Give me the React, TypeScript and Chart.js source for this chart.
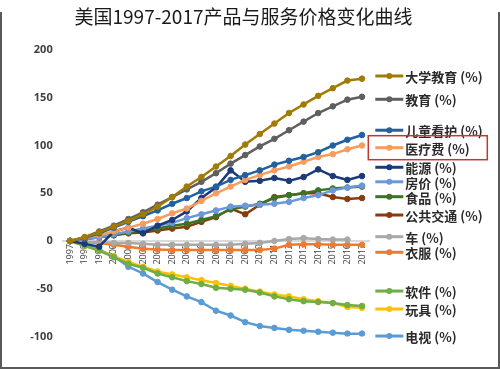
import React, { useEffect, useRef } from 'react';
import { Chart, registerables } from 'chart.js';

Chart.register(...registerables);

const TITLE = '美国1997-2017产品与服务价格变化曲线';

const years = ['1997', '1998', '1999', '2000', '2001', '2002', '2003', '2004', '2005', '2006', '2007',
  '2008', '2009', '2010', '2011', '2012', '2013', '2014', '2015', '2016', '2017'];

const yMin = -100;
const yMax = 200;
const yStep = 50;

const collegeTuition = [0, 4, 9, 15, 21, 28, 36, 46, 57, 67, 78, 89, 101, 112, 123, 134, 143, 152, 160, 168, 170];
const education = [0, 4, 10, 16, 23, 30, 38, 46, 54, 62, 71, 81, 90, 99, 107, 116, 125, 134, 141, 148, 151];
const childcare = [0, 3, 8, 14, 20, 26, 32, 39, 45, 52, 57, 64, 69, 74, 80, 84, 88, 93, 100, 106, 111];
const medical = [0, 3, 6, 10, 14, 18, 23, 29, 34, 42, 50, 57, 64, 69, 74, 78, 83, 88, 91, 96, 100];
const energy = [0, -3, -6, 10, 14, 8, 16, 22, 31, 45, 56, 74, 62, 63, 66, 63, 67, 75, 68, 64, 68];
const housing = [0, 2, 4, 7, 10, 13, 16, 19, 24, 28, 32, 36, 37, 38, 39, 41, 45, 48, 53, 56, 58];
const food = [0, 2, 4, 6, 9, 11, 13, 16, 18, 22, 26, 33, 36, 39, 45, 48, 50, 53, 55, 56, 57];
const publicTransport = [0, 2, 4, 6, 8, 9, 11, 13, 15, 20, 25, 34, 28, 38, 46, 48, 50, 50, 46, 44, 45];
const cars = [0, -1, -1, -2, -2, -3, -4, -4, -4, -4, -4, -4, -3, -2, 0, 2, 3, 2, 1.5, 1.5, null];
const clothing = [0, -1, -2, -4, -6, -8, -9, -9.5, -9.5, -9.5, -9.5, -9.5, -9.5, -9.5, -8, -4, -3.5, -3.5, -4, -4, -4];
const software = [0, -5, -10, -17, -24, -28, -34, -38, -42, -45, -49, -50, -51, -54, -58, -61, -63, -64, -65, -67, -68];
const toys = [0, -5, -10, -16, -22, -27, -32, -35, -38, -41, -44, -47, -50, -53, -56, -58, -61, -63, -65, -69, -70];
const televisions = [0, -3, -9, -16, -27, -34, -43, -51, -58, -64, -73, -78, -85, -89, -91, -93, -94, -95, -96, -97, -97];

const seriesLabels = ['大学教育 (%)', '教育 (%)', '儿童看护 (%)', '医疗费 (%)', '能源 (%)', '房价 (%)', '食品 (%)',
  '公共交通 (%)', '车 (%)', '衣服 (%)', '软件 (%)', '玩具 (%)', '电视 (%)'];
const seriesData = [collegeTuition, education, childcare, medical, energy, housing, food,
  publicTransport, cars, clothing, software, toys, televisions];
const seriesColors = ['#a07c06', '#5f5f5f', '#23609f', '#f79c5c', '#1c3a78', '#6b98dc', '#3d7226',
  '#8a3b0c', '#a8a8a8', '#ee7a2e', '#6fae45', '#ffc000', '#5b9bd5'];

// legend rows are placed beside the line ends (anchor given on the value axis)
const legendAnchors = [172.8, 148.4, 116, 97.7, 77.2, 62, 46.4, 27.2, 4.5, -11.8, -52.4, -71.2, -99.5];
const highlightedIndex = 3;

const overlayPlugin = {
  id: 'overlay',
  afterDraw(chart: any) {
    const ctx = chart.ctx;
    const yScale = chart.scales.y;
    const area = chart.chartArea;
    ctx.save();
    // title
    ctx.font = '19px "Noto Sans CJK SC", sans-serif';
    ctx.fillStyle = '#1a1a1a';
    ctx.textAlign = 'center';
    ctx.textBaseline = 'middle';
    ctx.fillText(TITLE, 243.5, 17);
    // legend
    const x0 = area.right + 6;
    chart.data.datasets.forEach((ds: any, i: number) => {
      const yy = yScale.getPixelForValue(legendAnchors[i]);
      ctx.strokeStyle = ds.borderColor;
      ctx.lineWidth = 3;
      ctx.beginPath();
      ctx.moveTo(x0, yy);
      ctx.lineTo(x0 + 28, yy);
      ctx.stroke();
      ctx.fillStyle = ds.borderColor;
      ctx.beginPath();
      ctx.arc(x0 + 14, yy, 3, 0, Math.PI * 2);
      ctx.fill();
      ctx.font = 'bold 13px "Noto Sans CJK SC", sans-serif';
      ctx.fillStyle = '#2a2a2a';
      ctx.textAlign = 'left';
      ctx.textBaseline = 'middle';
      ctx.fillText(ds.label, x0 + 30, yy + 1);
      if (i === highlightedIndex) {
        ctx.strokeStyle = '#c0392b';
        ctx.lineWidth = 1.5;
        ctx.strokeRect(x0 - 7, yy - 12, 119, 24);
      }
    });
    ctx.restore();
  },
};

export default function App() {
  const ref = useRef<HTMLCanvasElement>(null);
  useEffect(() => {
    if (!ref.current) return;
    const chart = new Chart(ref.current, {
      type: 'line',
      data: {
        labels: years,
        datasets: seriesData.map((d, i) => ({
          label: seriesLabels[i],
          data: d,
          borderColor: seriesColors[i],
          backgroundColor: seriesColors[i],
          pointBackgroundColor: seriesColors[i],
          pointBorderColor: seriesColors[i],
          pointRadius: 2.8,
          pointBorderWidth: 1,
          borderWidth: 2.5,
          tension: 0,
          fill: false,
        })),
      },
      options: {
        animation: false,
        responsive: false,
        devicePixelRatio: 1,
        layout: { padding: { top: 50, right: 130.7, bottom: 32.5, left: 0 } },
        plugins: {
          legend: { display: false },
          title: { display: false },
          tooltip: { enabled: false },
        },
        scales: {
          x: {
            position: { y: 0 } as any,
            offset: true,
            grid: { display: false, drawTicks: false },
            border: { display: true, color: '#d9d9d9', width: 2 },
            ticks: {
              autoSkip: false,
              minRotation: 90,
              maxRotation: 90,
              padding: 3,
              color: '#404040',
              font: { size: 9, family: '"Open Sans", sans-serif' },
            },
          },
          y: {
            min: yMin,
            max: yMax,
            grid: { display: false, drawTicks: false },
            border: { display: false },
            afterFit(scale: any) {
              scale.width = 62.7;
            },
            ticks: {
              stepSize: yStep,
              padding: 10,
              color: '#404040',
              font: { size: 11, weight: 'bold', family: '"Open Sans", sans-serif' },
            },
          },
        },
      },
      plugins: [overlayPlugin],
    });
    return () => chart.destroy();
  }, []);

  return (
    <div style={{ position: 'fixed', left: 0, top: 0, width: 500, height: 369, background: '#fff' }}>
      <canvas ref={ref} width={500} height={369} style={{ width: 500, height: 369, display: 'block' }} />
      <div
        style={{
          position: 'absolute',
          left: 0,
          top: 12,
          width: 496,
          height: 355,
          borderLeft: '2px solid #5a5a5a',
          borderRight: '2px solid #5a5a5a',
          borderBottom: '2px solid #5a5a5a',
          pointerEvents: 'none',
        }}
      />
    </div>
  );
}
